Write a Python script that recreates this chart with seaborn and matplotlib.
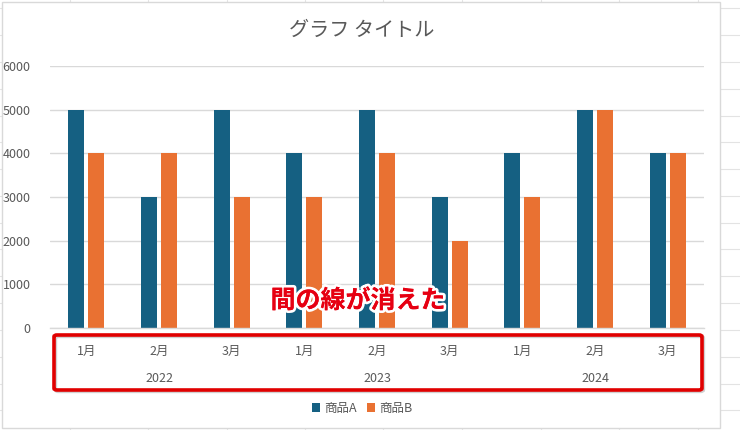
"""
Excel-style clustered bar chart with two-level category axis (year / month)
"""

import matplotlib
matplotlib.use('Agg')
import matplotlib.pyplot as plt
import matplotlib.patheffects as pe
from matplotlib.lines import Line2D
from matplotlib.patches import Rectangle, FancyBboxPatch
import seaborn as sns
import pandas as pd

# Data
years = ['2022', '2023', '2024']
months = ['1月', '2月', '3月']
series_names = ['商品A', '商品B']
sales_a = [5000, 3000, 5000, 4000, 5000, 3000, 4000, 5000, 4000]
sales_b = [4000, 4000, 3000, 3000, 4000, 2000, 3000, 5000, 4000]
y_ticks = [0, 1000, 2000, 3000, 4000, 5000, 6000]

title = 'グラフ タイトル'
note = '間の線が消えた'

colors = ['#156082', '#E97132']
text_gray = '#595959'
grid_gray = '#D9D9D9'

# Long-form table for seaborn
periods = [f'{y}-{m}' for y in years for m in months]
df = pd.DataFrame({
    'period': periods * 2,
    'value': sales_a + sales_b,
    'series': [series_names[0]] * len(periods) + [series_names[1]] * len(periods),
})

sns.set_theme(style='white')
plt.rcParams['font.family'] = ['Noto Sans CJK JP', 'DejaVu Sans']

W, H = 740, 430
fig = plt.figure(figsize=(W / 100, H / 100), dpi=100)
fig.patch.set_facecolor('white')

# Spreadsheet cell lines behind the chart
for yy in [8.3, 35, 61.7, 89, 115.7, 142.3, 169.3, 196, 222.7, 249.3, 276.3,
           303.3, 330, 357, 383.7, 410.3]:
    fig.add_artist(Line2D([0, 1], [1 - yy / H] * 2, color='#E3E3E3', lw=0.8, zorder=0))
for xx in [70, 148, 227, 305, 383, 462, 541, 619, 698]:
    fig.add_artist(Line2D([xx / W] * 2, [0, 1], color='#E3E3E3', lw=0.8, zorder=0))

# Chart area
fig.add_artist(Rectangle((2 / W, 1 - 428 / H), 718 / W, 426 / H, facecolor='white',
                         edgecolor=grid_gray, lw=1.0, zorder=1))

ax = fig.add_axes([50 / W, 1 - 328 / H, 654 / W, 262 / H], zorder=2)
ax.patch.set_alpha(0)

sns.barplot(
    data=df, x='period', y='value', hue='series', order=periods,
    hue_order=series_names, palette=colors, width=0.55, gap=0.2,
    saturation=1, linewidth=0, ax=ax, legend=True,
)

ax.set_ylim(0, 6000)
ax.set_yticks(y_ticks)
ax.set_yticklabels([str(v) for v in y_ticks])
ax.set_xticks(range(len(periods)))
ax.set_xticklabels(months * len(years))
ax.set_xlabel('')
ax.set_ylabel('')
ax.tick_params(axis='both', length=0, labelsize=9, labelcolor=text_gray)
ax.tick_params(axis='y', pad=14)
ax.tick_params(axis='x', pad=12)
ax.yaxis.grid(True, color=grid_gray, lw=1.0)
ax.set_axisbelow(True)
for side in ['top', 'right', 'left']:
    ax.spines[side].set_visible(False)
ax.spines['bottom'].set_color(grid_gray)
ax.spines['bottom'].set_linewidth(1.0)

# Year row under the months
trans = ax.get_xaxis_transform()
for i, yr in enumerate(years):
    ax.text(i * len(months) + 1, -50 / 262, yr, transform=trans, ha='center',
            va='center', fontsize=9, color=text_gray)

# Legend
handles, labels = ax.get_legend_handles_labels()
ax.get_legend().remove()
fig.legend(handles, labels, loc='center', bbox_to_anchor=(362 / W, 1 - 408 / H),
           ncol=2, frameon=False, fontsize=9, labelcolor=text_gray,
           handlelength=0.7, handleheight=0.7, handletextpad=0.3, columnspacing=0.8)

fig.text(362 / W, 1 - 30 / H, title, ha='center', va='center', fontsize=14.5,
         color=text_gray, zorder=3)

# Red highlight box around the category axis (soft shadow drawn first)
box_kw = dict(boxstyle='round,pad=0,rounding_size=0.004', facecolor='none')
fig.add_artist(FancyBboxPatch((55.5 / W, 1 - 391.5 / H), 648 / W, 55 / H,
                              edgecolor='#9A9A9A', lw=2.4, alpha=0.45, zorder=4, **box_kw))
fig.add_artist(FancyBboxPatch((54 / W, 1 - 390 / H), 648 / W, 55 / H,
                              edgecolor='#E00000', lw=2.6, zorder=4, **box_kw))

fig.text(358 / W, 1 - 301 / H, note, ha='center', va='center', fontsize=18,
         fontweight='bold', color='#E60012', zorder=5,
         path_effects=[pe.withStroke(linewidth=4, foreground='white'),
                       pe.Normal()])

plt.savefig('out.png', dpi=100)
plt.close()
